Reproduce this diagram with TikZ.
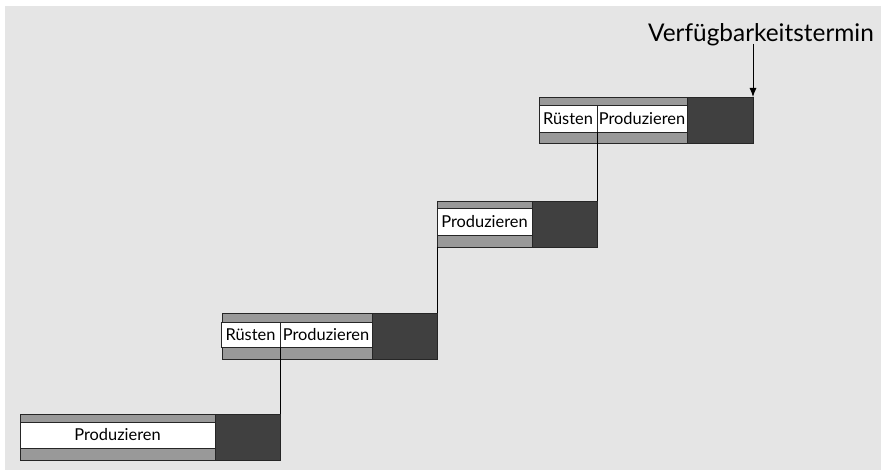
\documentclass[tikz,border=0pt]{standalone}
\usepackage{fontspec}
\setmainfont{Lato}
\usetikzlibrary{arrows.meta}
\definecolor{bgcol}{HTML}{E5E5E5}
\definecolor{barcol}{HTML}{999999}
\definecolor{darkcol}{HTML}{404040}
\tikzset{
  box/.style={draw=black!85, line width=0.9pt, inner sep=0pt, outer sep=0pt, anchor=north west},
  barbox/.style={box, fill=barcol},
  darkbox/.style={box, fill=darkcol},
  taskbox/.style={box, fill=white, font=\fontsize{16.4}{18}\selectfont},
  link/.style={draw=black, line width=0.9pt},
}
\begin{document}
\begin{tikzpicture}[x=1pt,y=-1pt]
\useasboundingbox (0,0) rectangle (881,470);
\fill[bgcol] (5,6) rectangle (881,470);

% operation 1
\node[barbox, minimum width=195pt, minimum height=46pt] (b1) at (20,414) {};
\node[darkbox, minimum width=65pt, minimum height=46pt] (d1) at (215,414) {};
\node[taskbox, minimum width=195pt, minimum height=26pt] (p1) at (20,422) {Produzieren};

% operation 2
\node[barbox, minimum width=150pt, minimum height=46pt] (b2) at (222,313) {};
\node[darkbox, minimum width=65pt, minimum height=46pt] (d2) at (372,313) {};
\node[taskbox, minimum width=59pt, minimum height=25pt] (r2) at (221,322) {Rüsten};
\node[taskbox, minimum width=92pt, minimum height=25pt] (p2) at (280,322) {Produzieren};

% operation 3
\node[barbox, minimum width=95pt, minimum height=46pt] (b3) at (437,201) {};
\node[darkbox, minimum width=65pt, minimum height=46pt] (d3) at (532,201) {};
\node[taskbox, minimum width=95pt, minimum height=27pt] (p3) at (437,208) {Produzieren};

% operation 4
\node[barbox, minimum width=148pt, minimum height=46pt] (b4) at (539,97) {};
\node[darkbox, minimum width=66pt, minimum height=46pt] (d4) at (687,97) {};
\node[taskbox, minimum width=58pt, minimum height=27pt] (r4) at (539,105) {Rüsten};
\node[taskbox, minimum width=90pt, minimum height=27pt] (p4) at (597,105) {Produzieren};

% links between operations
\draw[link] (r2.south east) -- (d1.north east);
\draw[link] (b3.south west) -- (d2.north east);
\draw[link] (r4.south east) -- (d3.north east);

% due date
\node[font=\fontsize{24.4}{26}\selectfont, anchor=base, inner sep=0pt] (due) at (761,42) {Verfügbarkeitstermin};
\coordinate (duept) at (753,44);
\draw[link, -{Latex[length=9pt,width=7pt]}] (duept) -- (d4.north east);
\end{tikzpicture}
\end{document}
